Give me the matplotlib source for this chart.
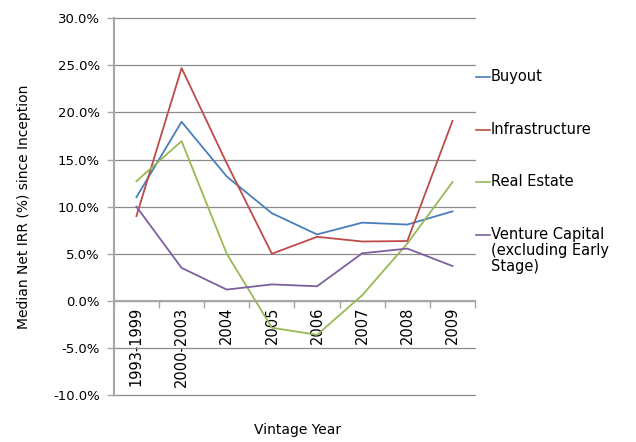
import numpy as np
import matplotlib
matplotlib.use("Agg")
import matplotlib.pyplot as plt
from matplotlib.ticker import PercentFormatter

# median net IRR since inception by vintage year, in percent
vintages = ["1993-1999", "2000-2003", "2004", "2005", "2006", "2007", "2008", "2009"]
buyout = [11.0, 19.0, 13.2, 9.3, 7.05, 8.3, 8.1, 9.5]
infrastructure = [9.0, 24.7, 14.6, 5.0, 6.8, 6.3, 6.35, 19.1]
real_estate = [12.7, 16.95, 5.0, -2.85, -3.6, 0.6, 6.1, 12.6]
venture_capital = [10.0, 3.5, 1.2, 1.75, 1.55, 5.05, 5.55, 3.7]

series = [
    ("Buyout", buyout, "#4a7ebb"),
    ("Infrastructure", infrastructure, "#be4b48"),
    ("Real Estate", real_estate, "#98b954"),
    ("Venture Capital\n(excluding Early\nStage)", venture_capital, "#7d60a0"),
]

plt.rcParams["font.family"] = "DejaVu Sans"
plt.rcParams["axes.unicode_minus"] = False
GRID = "#8c8c8c"
AXIS = "#a6a6a6"

fig = plt.figure(figsize=(6.36, 4.42), dpi=100)
ax = fig.add_axes([0.179, 0.106, 0.568, 0.853])

x = np.arange(len(vintages))
for name, vals, color in series:
    ax.plot(x, vals, color=color, linewidth=1.3, zorder=3)

ax.set_xlim(-0.5, len(vintages) - 0.5)
ax.set_ylim(-10, 30)
ax.set_yticks(np.arange(-10, 31, 5))
ax.yaxis.set_major_formatter(PercentFormatter(decimals=1))
ax.grid(axis="y", color=GRID, linewidth=0.9, zorder=0)
for gl in ax.get_ygridlines():
    gl.set_clip_on(False)

# category axis crosses at zero, ticks between categories
ax.spines["bottom"].set_position(("data", 0))
ax.set_xticks(np.arange(-0.5, len(vintages)), labels=[])
ax.set_xticks(x, labels=vintages, minor=True, rotation=90, fontsize=10.5)
ax.tick_params(axis="x", which="major", direction="out", length=5, color=AXIS, width=1)
ax.tick_params(axis="x", which="minor", length=0, pad=4)
ax.tick_params(axis="y", direction="out", length=5, color=AXIS, width=1, labelsize=9.5, pad=5)

for side in ("top", "right"):
    ax.spines[side].set_visible(False)
ax.spines["left"].set_color(AXIS)
ax.spines["left"].set_linewidth(1.5)
ax.spines["bottom"].set_color(AXIS)
ax.spines["bottom"].set_linewidth(1.5)

ax.set_ylabel("Median Net IRR (%) since Inception", fontsize=10, labelpad=16)
fig.text(0.468, 0.027, "Vintage Year", ha="center", va="center", fontsize=10)

# legend drawn by hand so the swatch sits on the first text line
for i, (name, vals, color) in enumerate(series):
    yl = 0.826 - i * 0.119
    fig.add_artist(plt.Line2D([0.749, 0.770], [yl, yl], color=color, linewidth=1.2,
                              transform=fig.transFigure))
    fig.text(0.772, yl + 0.018, name, ha="left", va="top", fontsize=10.5,
             linespacing=1.1)

fig.savefig("out.png", dpi=100)
